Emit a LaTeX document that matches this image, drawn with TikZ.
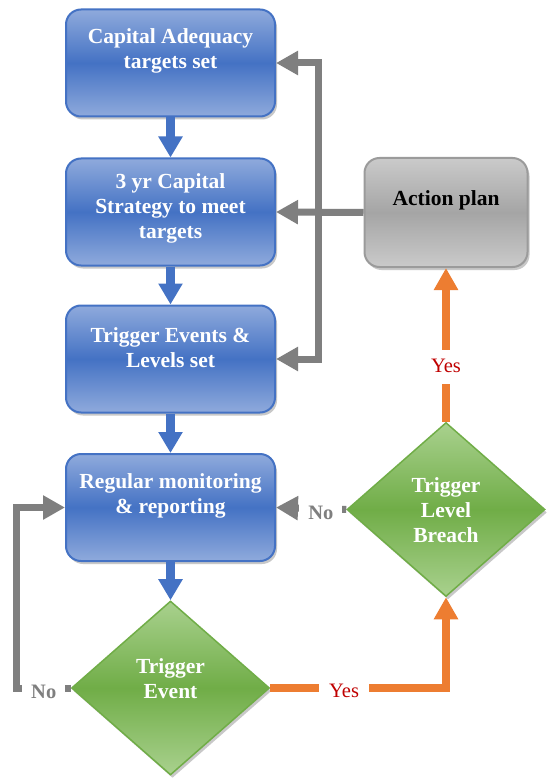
\documentclass[tikz,border=0pt]{standalone}
\usepackage{fontspec}
\setmainfont{Liberation Serif}
\usepackage{xcolor}
\definecolor{royal}{HTML}{4472C4}
\definecolor{royallight}{HTML}{8FAADC}
\definecolor{leaf}{HTML}{70AD47}
\definecolor{leaflight}{HTML}{A9D18E}
\definecolor{slate}{HTML}{7F7F7F}
\definecolor{silver}{HTML}{A5A5A5}
\definecolor{silverlight}{HTML}{CACACA}
\definecolor{silverdark}{HTML}{9B9B9B}
\definecolor{ember}{HTML}{ED7D31}
\definecolor{crimson}{HTML}{C00000}
\usepackage{tikz}
\usetikzlibrary{arrows.meta, shapes.geometric, shadows}

\begin{document}
\begin{tikzpicture}[x=1pt, y=-1pt,
  softshadow/.style={drop shadow={shadow xshift=2pt, shadow yshift=-3pt, opacity=0.3, fill=black!70}},
  bluebox/.style={draw=royal, line width=2pt, rounded corners=15pt, minimum width=209pt, minimum height=107pt,
    top color=royallight, bottom color=royallight, middle color=royal, softshadow},
  graybox/.style={draw=silverdark, line width=2pt, rounded corners=15pt, minimum width=163pt, minimum height=109pt,
    top color=silverlight, bottom color=silverlight, middle color=silver, softshadow},
  greendia/.style={diamond, draw=leaf, line width=1.5pt, inner sep=0pt, minimum width=198pt, minimum height=174pt,
    top color=leaflight, bottom color=leaflight, middle color=leaf, softshadow},
  boxtext/.style={text=white, font=\bfseries\fontsize{21.5}{25}\selectfont, align=center},
  bluearrow/.style={draw=royal, line width=9pt, -{Triangle[length=21pt, width=23pt]}},
  grayarrow/.style={draw=slate, line width=7pt, -{Triangle[length=22pt, width=23pt]}},
  orangearrow/.style={draw=ember, line width=8pt, -{Triangle[length=22pt, width=23pt]}},
  yeslabel/.style={fill=white, text=crimson, font=\fontsize{20.5}{24}\selectfont, inner xsep=10pt, inner ysep=8pt,
    text height=14pt, text depth=4pt, yshift=-4pt},
  nolabel/.style={fill=white, text=slate, font=\bfseries\fontsize{20.5}{24}\selectfont, inner xsep=9pt, inner ysep=5pt,
    yshift=-4pt}]

  \fill[white] (0,0) rectangle (553,778);
  \useasboundingbox (0,0) rectangle (553,778);

  % Blue process boxes
  \node[bluebox] (cat) at (170.5, 63) {};
  \node[bluebox] (strat) at (170.5, 212) {};
  \node[bluebox] (trig) at (170.5, 359) {};
  \node[bluebox] (mon) at (170.5, 507.5) {};
  \node[boxtext] (cattxt) at (170.5, 51) {Capital Adequacy\\targets set};
  \node[boxtext] (strattxt) at (170.5, 208) {3 yr Capital\\Strategy to meet\\targets};
  \node[boxtext] (trigtxt) at (170.5, 347.5) {Trigger Events \&\\Levels set};
  \node[boxtext] (montxt) at (170.5, 495.5) {Regular monitoring\\\& reporting};

  % Action plan
  \node[graybox] (act) at (446, 212.5) {};
  \node[boxtext, text=black] (acttxt) at (446, 200) {Action plan};

  % Decisions
  \node[greendia] (te) at (170.5, 688) {};
  \node[boxtext] (tetxt) at (170.5, 678.5) {Trigger\\Event};
  \node[greendia] (dlb) at (446, 509.5) {};
  \node[boxtext] (dlbtxt) at (446, 510) {Trigger\\Level\\Breach};

  % Main flow
  \draw[bluearrow] (cat) -- (strat);
  \draw[bluearrow] (strat) -- (trig);
  \draw[bluearrow] (trig) -- (mon);
  \draw[bluearrow] (mon) -- (te);

  % Feedback from action plan
  \coordinate (fork) at ([xshift=-45pt]act.west);
  \draw[grayarrow] (act.west) -- (strat.east);
  \draw[grayarrow] (fork) |- (cat.east);
  \draw[grayarrow] (fork) |- (trig.east);

  % Yes branches
  \draw[orangearrow] (te.east) -| node[yeslabel, pos=0.21] (yesev) {Yes} (dlb.south);
  \draw[orangearrow] (dlb.north) -- node[yeslabel, pos=0.38] (yesbr) {Yes} (act.south);

  % No branches
  \draw[grayarrow] (dlb.west) -- node[nolabel, pos=0.36] (nobr) {No} (mon.east);
  \coordinate (loop) at ([xshift=-54pt]te.west);
  \draw[grayarrow] (te.west) -- node[nolabel, pos=0.5] (noev) {No} (loop) |- (mon.west);
\end{tikzpicture}
\end{document}
